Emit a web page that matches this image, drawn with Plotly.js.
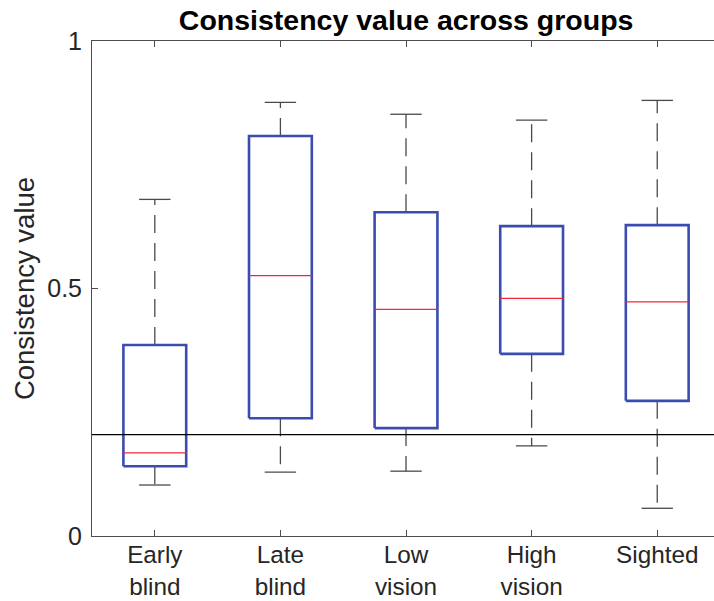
<!DOCTYPE html>
<html>
<head>
<meta charset="utf-8">
<script src="https://cdn.plot.ly/plotly-3.0.1.min.js"></script>
<style>
  html, body { margin: 0; padding: 0; background: #fff; }
  #chart { width: 714px; height: 601px; }
</style>
</head>
<body>
<div id="chart"></div>
<script>
// Group labels (two-line tick labels)
const groups = ['Early<br>blind', 'Late<br>blind', 'Low<br>vision', 'High<br>vision', 'Sighted'];

// Box-plot statistics per group
const upperWhisker = [0.680, 0.876, 0.852, 0.840, 0.880];
const q3           = [0.386, 0.808, 0.654, 0.626, 0.628];
const medians      = [0.168, 0.526, 0.458, 0.480, 0.473];
const q1           = [0.141, 0.238, 0.218, 0.368, 0.273];
const lowerWhisker = [0.103, 0.129, 0.131, 0.182, 0.056];

// Chance-level reference line
const chanceLevel = 0.205;

// Y-axis ticks
const yTickVals = [0, 0.5, 1];
const yTickText = ['0', '0.5', '1'];

const BOX_HALF = 0.25;
const CAP_HALF = 0.125;
const boxColor = '#3b4cb0';
const medianColor = '#ee2a3a';
const whiskerColor = '#4a4a4a';
const fontFamily = 'Liberation Sans, Arial, Helvetica, sans-serif';

const traces = [];
groups.forEach((g, i) => {
  const x = i + 1;
  // dashed whiskers
  traces.push({
    type: 'scatter', mode: 'lines', hoverinfo: 'skip', showlegend: false,
    x: [x, x], y: [q3[i], upperWhisker[i]],
    line: { color: whiskerColor, width: 1.3, dash: '18px,10px' }
  });
  traces.push({
    type: 'scatter', mode: 'lines', hoverinfo: 'skip', showlegend: false,
    x: [x, x], y: [q1[i], lowerWhisker[i]],
    line: { color: whiskerColor, width: 1.3, dash: '18px,10px' }
  });
  // whisker caps
  [upperWhisker[i], lowerWhisker[i]].forEach(v => {
    traces.push({
      type: 'scatter', mode: 'lines', hoverinfo: 'skip', showlegend: false,
      x: [x - CAP_HALF, x + CAP_HALF], y: [v, v],
      line: { color: whiskerColor, width: 1.3 }
    });
  });
  // box
  traces.push({
    type: 'scatter', mode: 'lines', hoverinfo: 'skip', showlegend: false,
    x: [x - BOX_HALF, x + BOX_HALF, x + BOX_HALF, x - BOX_HALF, x - BOX_HALF],
    y: [q1[i], q1[i], q3[i], q3[i], q1[i]],
    line: { color: boxColor, width: 2.6 }
  });
  // median
  traces.push({
    type: 'scatter', mode: 'lines', hoverinfo: 'skip', showlegend: false,
    x: [x - BOX_HALF, x + BOX_HALF], y: [medians[i], medians[i]],
    line: { color: medianColor, width: 1.2 }
  });
});

const layout = {
  width: 714,
  height: 601,
  margin: { l: 92, r: 0, t: 41, b: 65 },
  paper_bgcolor: '#fff',
  plot_bgcolor: '#fff',
  showlegend: false,
  font: { family: fontFamily, color: '#262626' },
  title: {
    text: '<b>Consistency value across groups</b>',
    font: { family: fontFamily, size: 28.5, color: '#000' },
    xref: 'paper', x: 0.505, xanchor: 'center',
    yref: 'container', y: 1 - 20 / 601, yanchor: 'middle'
  },
  xaxis: {
    range: [0.5, 5.452],
    tickvals: groups.map((g, i) => i + 1),
    ticktext: groups,
    ticks: 'inside', ticklen: 6, tickcolor: '#4d4d4d', tickwidth: 1,
    showline: true, linecolor: '#4d4d4d', linewidth: 1,
    mirror: 'ticks',
    showgrid: false, zeroline: false,
    tickfont: { size: 24.3, color: '#262626' },
    ticklabelstandoff: -3,
    fixedrange: true
  },
  yaxis: {
    range: [0, 1],
    tickvals: yTickVals,
    ticktext: yTickText,
    ticks: 'inside', ticklen: 6, tickcolor: '#4d4d4d', tickwidth: 1,
    showline: true, linecolor: '#4d4d4d', linewidth: 1,
    showgrid: false, zeroline: false,
    tickfont: { size: 25, color: '#262626' },
    ticklabelstandoff: 4,
    title: { text: 'Consistency value', font: { size: 27.5, color: '#262626' }, standoff: 4 },
    fixedrange: true
  },
  shapes: [{
    type: 'line', xref: 'paper', x0: 0, x1: 1, yref: 'y', y0: chanceLevel, y1: chanceLevel,
    line: { color: '#000', width: 1.2 }, layer: 'above'
  }]
};

Plotly.newPlot('chart', traces, layout, { displayModeBar: false, staticPlot: true });
</script>
</body>
</html>
